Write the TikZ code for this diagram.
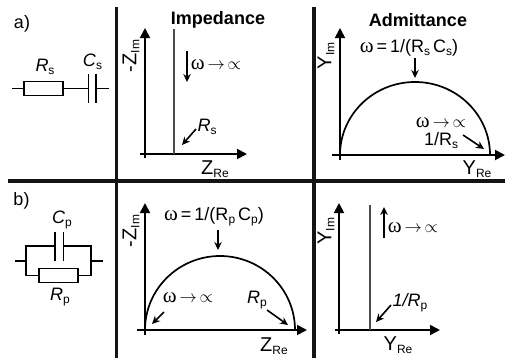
\documentclass[tikz,border=0pt]{standalone}
\usepackage{fontspec}
\setmainfont{Liberation Sans}
\newfontfamily\omfont{Liberation Serif}
\usetikzlibrary{arrows.meta}
\tikzset{
  x=1pt,y=-1pt,
  divider/.style={line width=3.6pt,black!92},
  axis/.style={line width=1.8pt,-{Triangle[length=10pt,width=10pt]}},
  curve/.style={line width=1.7pt},
  vert/.style={line width=1.7pt,black!70},
  pointer/.style={line width=1.6pt,-{Stealth[length=8pt,width=7.5pt]}},
  wire/.style={line width=1.5pt},
  res/.style={draw,line width=1.6pt,fill=white,minimum width=39pt,minimum height=14pt,inner sep=0pt},
  lab/.style={inner sep=0pt,font=\fontsize{18}{18}\selectfont},
  axlab/.style={inner sep=0pt,font=\fontsize{20}{20}\selectfont},
  small/.style={inner sep=0pt,font=\fontsize{16}{16}\selectfont},
  rot/.style={inner sep=0pt,rotate=90,font=\fontsize{20}{20}\selectfont},
  title/.style={inner sep=0pt,font=\fontsize{18}{18}\selectfont\bfseries},
}
\newcommand{\sm}[1]{\raisebox{-3pt}{\fontsize{12}{12}\selectfont #1}}
\newcommand{\om}{{\omfont\fontsize{21}{21}\selectfont ω}}
\newcommand{\wlim}{\om$\,\rightarrow\,\propto$}
\begin{document}
\begin{tikzpicture}
\useasboundingbox (0,0) rectangle (505,359);
\fill[white] (0,0) rectangle (505,359);
% dividers
\coordinate (d1t) at (116.5,7); \coordinate (d1b) at (116.5,358);
\coordinate (d2t) at (314,7);   \coordinate (d2b) at (314,358);
\coordinate (dhl) at (8,181);   \coordinate (dhr) at (505,181);
\draw[divider] (d1t) -- (d1b);
\draw[divider] (d2t) -- (d2b);
\draw[divider] (dhl) -- (dhr);
% titles
\node[title] (timp) at (218,20) {Impedance};
\node[title] (tadm) at (418,20) {Admittance};
\node[lab] (la) at (22,24) {a)};
\node[lab] (lb) at (21.5,201) {b)};
% circuit a
\coordinate (a1) at (12,88.5); \coordinate (a2) at (88.5,88.5);
\coordinate (a3) at (96,88.5); \coordinate (a4) at (109,88.5);
\node[res] (ra) at (43.5,88.5) {};
\draw[wire] (a1) -- (ra) -- (a2);
\draw[wire] (a3) -- (a4);
\coordinate (pa1) at (88.5,74); \coordinate (pa2) at (88.5,103);
\coordinate (pa3) at (96,74);   \coordinate (pa4) at (96,103);
\draw[wire] (pa1) -- (pa2);
\draw[wire] (pa3) -- (pa4);
\node[lab] (rsl) at (45,67) {\textit{R}\sm{s}};
\node[lab] (csl) at (92.5,62) {\textit{C}\sm{s}};
% circuit b
\node[res] (rb) at (58.5,275.5) {};
\coordinate (b0) at (15,261); \coordinate (b1) at (26,261);
\coordinate (b2) at (91,261); \coordinate (b3) at (103,261);
\coordinate (bt) at (55,246); \coordinate (bu) at (63.5,246);
\draw[wire] (b0) -- (b1) |- (bt);
\draw[wire] (bu) -| (b2) -- (b3);
\draw[wire] (b1) |- (rb);
\draw[wire] (b2) |- (rb);
\coordinate (pb1) at (55,232); \coordinate (pb2) at (55,261);
\coordinate (pb3) at (63.5,232); \coordinate (pb4) at (63.5,261);
\draw[wire] (pb1) -- (pb2);
\draw[wire] (pb3) -- (pb4);
\node[lab] (cpl) at (62,220) {\textit{C}\sm{p}};
\node[lab] (rpl) at (60,297) {\textit{R}\sm{p}};
% panel a impedance
\coordinate (o1x) at (140,154); \coordinate (e1x) at (247,154);
\coordinate (o1y) at (145,158); \coordinate (e1y) at (145,28);
\draw[axis] (o1x) -- (e1x);
\draw[axis] (o1y) -- (e1y);
\coordinate (v1t) at (174,29); \coordinate (v1b) at (174,154);
\draw[vert] (v1t) -- (v1b);
\coordinate (p1s) at (187,51); \coordinate (p1e) at (187,82);
\draw[pointer] (p1s) -- (p1e);
\node[small] (w1) at (216,65) {\wlim};
\node[lab] (rs1) at (207,127) {\textit{R}\sm{s}};
\coordinate (p2s) at (196,129); \coordinate (p2e) at (182,145);
\draw[pointer] (p2s) -- (p2e);
\node[axlab] (zre1) at (215,169) {Z\sm{Re}};
\node[rot] (zim1) at (131,56) {-Z\sm{Im}};
% panel a admittance
\coordinate (o2x) at (332,155); \coordinate (e2x) at (505,155);
\coordinate (o2y) at (340,160); \coordinate (e2y) at (340,28);
\draw[axis] (o2x) -- (e2x);
\draw[axis] (o2y) -- (e2y);
\coordinate (s2a) at (340,155);
\draw[curve] (s2a) arc[start angle=180,end angle=0,x radius=75pt,y radius=73pt];
\node[lab] (w2) at (409,48) {\om\,=\,1/(R\sm{s}\,C\sm{s})};
\coordinate (p3s) at (415,58); \coordinate (p3e) at (415,78);
\draw[pointer] (p3s) -- (p3e);
\node[small] (w3) at (441,123) {\wlim};
\node[lab] (rs2) at (441,141) {1/R\sm{s}};
\coordinate (p4s) at (463,135); \coordinate (p4e) at (484,149);
\draw[pointer] (p4s) -- (p4e);
\node[axlab] (yre1) at (477,169) {Y\sm{Re}};
\node[rot] (yim1) at (326,56) {Y\sm{Im}};
% panel b impedance
\coordinate (o3x) at (137,330); \coordinate (e3x) at (307,330);
\coordinate (o3y) at (145,335); \coordinate (e3y) at (145,203);
\draw[axis] (o3x) -- (e3x);
\draw[axis] (o3y) -- (e3y);
\coordinate (s3a) at (145,330);
\draw[curve] (s3a) arc[start angle=180,end angle=0,x radius=75pt,y radius=74pt];
\node[lab] (w4) at (214,217) {\om\,=\,1/(R\sm{p}\,C\sm{p})};
\coordinate (p5s) at (218,230); \coordinate (p5e) at (218,250);
\draw[pointer] (p5s) -- (p5e);
\node[small] (w5) at (188,298) {\wlim};
\coordinate (p6s) at (164,312); \coordinate (p6e) at (152,324);
\draw[pointer] (p6s) -- (p6e);
\node[lab] (rp3) at (257,300) {\textit{R}\sm{p}};
\coordinate (p7s) at (267,310); \coordinate (p7e) at (288,325);
\draw[pointer] (p7s) -- (p7e);
\node[axlab] (zre2) at (274,346) {Z\sm{Re}};
\node[rot] (zim2) at (131,231) {-Z\sm{Im}};
% panel b admittance
\coordinate (o4x) at (335,330); \coordinate (e4x) at (440,330);
\coordinate (o4y) at (339,334); \coordinate (e4y) at (339,203);
\draw[axis] (o4x) -- (e4x);
\draw[axis] (o4y) -- (e4y);
\coordinate (v4t) at (370,205); \coordinate (v4b) at (370,330);
\draw[vert] (v4t) -- (v4b);
\coordinate (p8s) at (384,238); \coordinate (p8e) at (384,207);
\draw[pointer] (p8s) -- (p8e);
\node[small] (w6) at (413,228) {\wlim};
\node[lab] (rp4) at (410,303) {\textit{1/R}\sm{p}};
\coordinate (p9s) at (391,305); \coordinate (p9e) at (376,322);
\draw[pointer] (p9s) -- (p9e);
\node[axlab] (yre2) at (398,345) {Y\sm{Re}};
\node[rot] (yim2) at (326,231) {Y\sm{Im}};
\end{tikzpicture}
\end{document}
